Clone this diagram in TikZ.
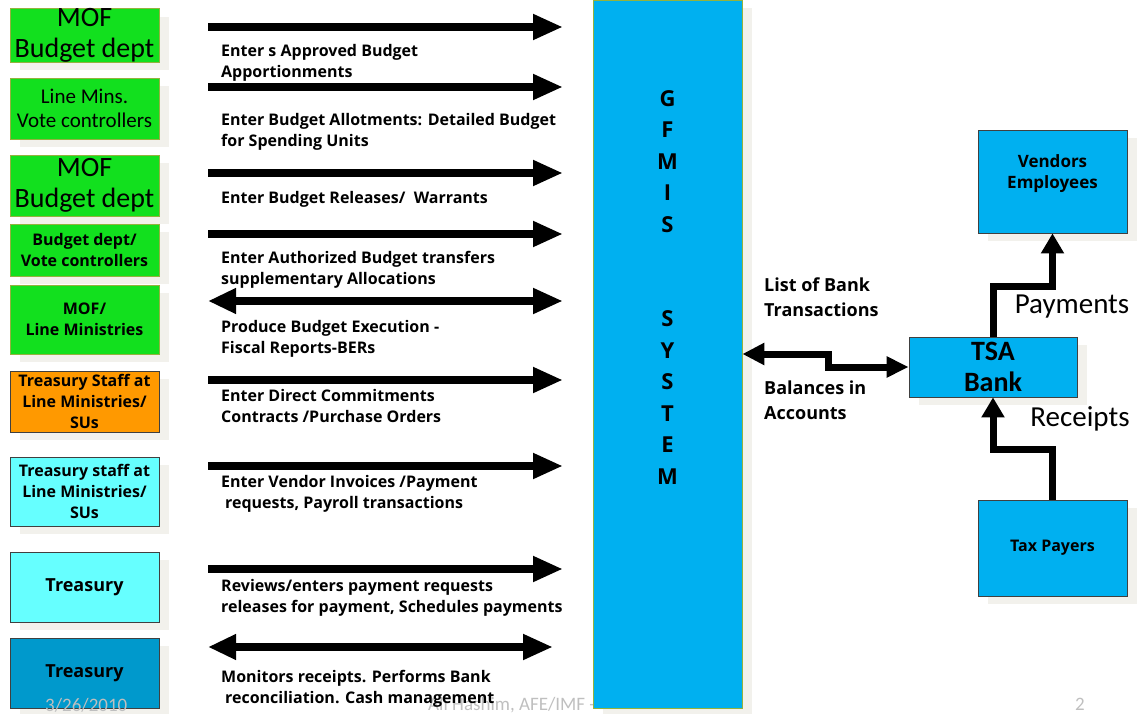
\documentclass[tikz,border=0pt]{standalone}
\usepackage{fontspec}
\setmainfont{Carlito}
\newfontfamily\labelfont{Open Sans}
\usepackage{tikz}
\usetikzlibrary{arrows.meta,positioning,shadows}
\definecolor{boxgreen}{HTML}{12E01E}
\definecolor{staffor}{HTML}{FF9900}
\definecolor{lightcyan}{HTML}{66FFFF}
\definecolor{treasblue}{HTML}{0099CC}
\definecolor{sysblue}{HTML}{00B0F0}
\definecolor{olivedge}{HTML}{94B23E}
\definecolor{darkedge}{HTML}{404040}
\definecolor{shadowgrey}{HTML}{F2F1EC}
\definecolor{footgrey}{HTML}{BFBFBF}
\tikzset{
    unit/.style={
        rectangle,
        draw=olivedge,
        line width=0.8pt,
        fill=boxgreen,
        minimum width=149pt,
        inner sep=0pt,
        align=center,
        font=\labelfont\bfseries\fontsize{16}{21}\selectfont,
        general shadow={fill=shadowgrey, shadow xshift=10pt, shadow yshift=-8pt}
    },
    staff/.style={unit, draw=darkedge},
    sysbox/.style={unit, fill=sysblue},
    bank/.style={unit, draw=darkedge, fill=sysblue},
    flow/.style={line width=8pt, -{Triangle[length=30pt,width=24pt]}},
    flowboth/.style={line width=8pt, {Triangle[length=28pt,width=24pt]}-{Triangle[length=30pt,width=24pt]}},
    money/.style={line width=7pt, line join=miter, -{Triangle[length=20pt,width=22pt]}},
    moneyboth/.style={line width=7pt, line join=miter, {Triangle[length=22pt,width=21pt]}-{Triangle[length=22pt,width=20pt]}},
    steplabel/.style={anchor=north west, inner sep=0pt, align=left, font=\labelfont\bfseries\fontsize{16}{21}\selectfont},
    banklabel/.style={anchor=north west, inner sep=0pt, align=left, font=\labelfont\bfseries\fontsize{18}{25}\selectfont},
    flowname/.style={inner sep=0pt, font=\fontsize{29}{31}\selectfont},
    footer/.style={inner sep=0pt, text=footgrey, font=\fontsize{19}{21}\selectfont}
}

\begin{document}
\begin{tikzpicture}[x=1pt, y=-1pt]
    \useasboundingbox (0,0) rectangle (1144,714);

    % who enters what
    \node (mof1) [unit, minimum height=53pt, font=\fontsize{28}{31}\selectfont] at (84.5,35.5) {MOF\\Budget dept};
    \node (vote1) [unit, minimum height=61pt, font=\fontsize{21}{24}\selectfont] at (84.5,108.5) {Line Mins.\\ Vote controllers};
    \node (mof2) [unit, minimum height=61pt, font=\fontsize{28}{31}\selectfont] at (84.5,185.5) {MOF\\Budget dept};
    \node (vote2) [unit, minimum height=52pt] at (84.5,250) {Budget dept/\\Vote controllers};
    \node (mofline) [unit, minimum height=69pt] at (84.5,319.5) {MOF/\\Line Ministries};
    \node (staff1) [staff, fill=staffor, minimum height=61pt] at (84.5,401.5) {Treasury Staff at\\Line Ministries/\\SUs};
    \node (staff2) [staff, fill=lightcyan, minimum height=69pt] at (84.5,491.5) {Treasury staff at\\Line Ministries/\\SUs};
    \node (treas1) [staff, fill=lightcyan, minimum height=70pt, font=\labelfont\bfseries\fontsize{18}{21}\selectfont] at (84.5,587) {Treasury};
    \node (treas2) [staff, fill=treasblue, minimum height=70pt, font=\labelfont\bfseries\fontsize{18}{21}\selectfont] at (84.5,673) {Treasury};

    % footer
    \node (date) [footer, anchor=west] at (45,705) {3/26/2010};
    \node (author) [footer, anchor=west] at (428,705) {Ali Hashim, AFE/IMF - World Bank};
    \node (page) [footer] at (1080,704) {2};

    % the system
    \node (sys) [sysbox, minimum height=708pt] at (667.5,354) {};
    \node (sysname) [inner sep=0pt, align=center, font=\labelfont\bfseries\fontsize{22}{31.5}\selectfont] at (667.5,287.5)
        {G\\F\\M\\I\\S\\[63pt]S\\Y\\S\\T\\E\\M};

    % flows into the system
    \coordinate (src1) at (208,27);   \coordinate (dst1) at (563,27);
    \coordinate (src2) at (208,87);   \coordinate (dst2) at (563,87);
    \coordinate (src3) at (208,173);  \coordinate (dst3) at (563,173);
    \coordinate (src4) at (208,234);  \coordinate (dst4) at (563,234);
    \coordinate (src5) at (208,301);  \coordinate (dst5) at (563,301);
    \coordinate (src6) at (208,380);  \coordinate (dst6) at (563,380);
    \coordinate (src7) at (208,466);  \coordinate (dst7) at (563,466);
    \coordinate (src8) at (208,569);  \coordinate (dst8) at (563,569);
    \coordinate (src9) at (208,647);  \coordinate (dst9) at (553,647);
    \foreach \i in {1,2,3,4,6,7,8}
        \draw [flow] (src\i) -- (dst\i);
    \draw [flowboth] (src5) -- (dst5);
    \draw [flowboth] (src9) -- (dst9);

    \node (lab1) [steplabel] at (221,44) {Enter s Approved Budget\\Apportionments};
    \node (lab2) [steplabel] at (221,113) {Enter Budget Allotments: Detailed Budget\\for Spending Units};
    \node (lab3) [steplabel] at (221,191) {Enter Budget Releases/\ \ Warrants};
    \node (lab4) [steplabel] at (221,251) {Enter Authorized Budget transfers\\supplementary Allocations};
    \node (lab5) [steplabel] at (221,320) {Produce Budget Execution -\\Fiscal Reports-BERs};
    \node (lab6) [steplabel] at (221,389) {Enter Direct Commitments\\Contracts /Purchase Orders};
    \node (lab7) [steplabel] at (221,475) {Enter Vendor Invoices /Payment\\\hspace{4pt}requests, Payroll transactions};
    \node (lab8) [steplabel] at (221,579) {Reviews/enters payment requests\\releases for payment, Schedules payments};
    \node (lab9) [steplabel] at (221,670) {Monitors receipts. Performs Bank\\\hspace{4pt}reconciliation. Cash management};

    % bank side
    \node (tsa) [bank, minimum width=168pt, minimum height=60pt, font=\bfseries\fontsize{28}{31}\selectfont] at (993,367) {TSA\\Bank};
    \node (vend) [bank, minimum height=103pt, font=\labelfont\bfseries\fontsize{17}{21}\selectfont] at (1052.5,181.5) {Vendors\\Employees\\[-1pt]\mbox{}};
    \node (tax) [bank, minimum height=96pt, font=\labelfont\bfseries\fontsize{16}{21}\selectfont] at (1052.5,548) {Tax Payers};

    \draw [moneyboth] (sys.east) -| ++(86,0) |- (tsa.west);
    \draw [money] (tsa.north) -- ++(0,-50) -| (vend.south);
    \draw [money] (tax.north) -- ++(0,-50) -| (tsa.south);

    \node (trans) [banklabel] at (764,278) {List of Bank\\Transactions};
    \node (bal) [banklabel] at (764,381) {Balances in\\Accounts};
    \node (pay) [flowname] at (1072,307) {Payments};
    \node (rec) [flowname] at (1080,419) {Receipts};
\end{tikzpicture}
\end{document}
